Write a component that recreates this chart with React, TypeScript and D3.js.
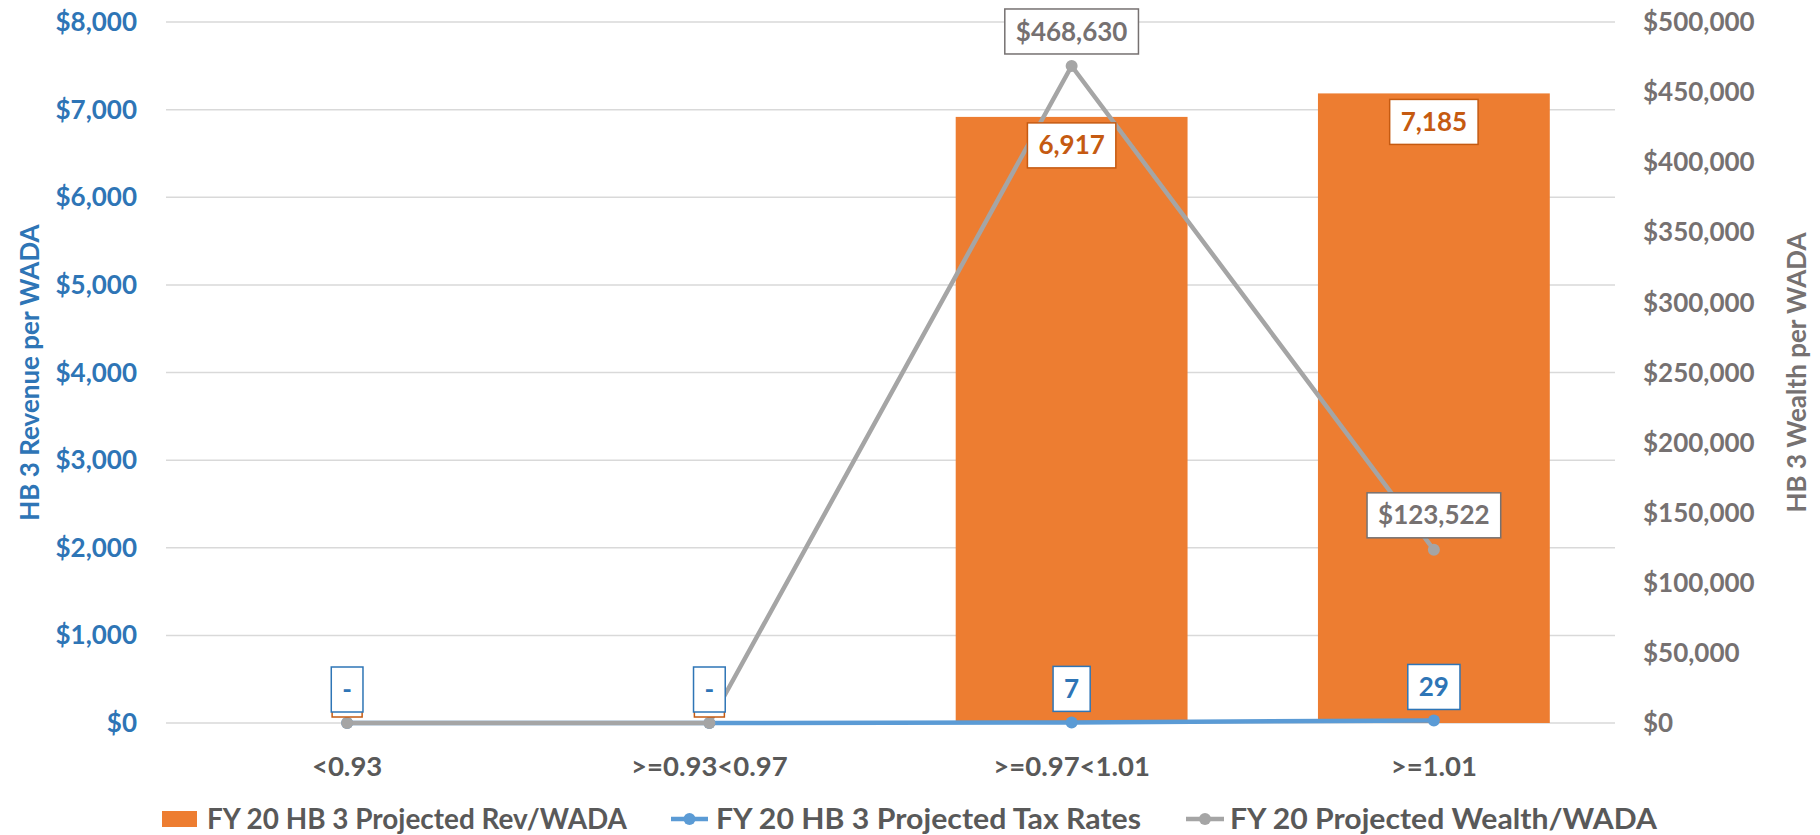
import React, { useEffect, useRef } from "react";
import * as d3 from "d3";

const categories = ["<0.93", ">=0.93<0.97", ">=0.97<1.01", ">=1.01"];
const revPerWada = [0, 0, 6917, 7185];
const taxRates = [0, 0, 7, 29];
const wealthPerWada = [0, 0, 468630, 123522];
const leftTicks = [0, 1000, 2000, 3000, 4000, 5000, 6000, 7000, 8000];
const rightTicks = [0, 50000, 100000, 150000, 200000, 250000, 300000, 350000, 400000, 450000, 500000];
const legendLabels = [
  "FY 20 HB 3 Projected Rev/WADA",
  "FY 20 HB 3 Projected Tax Rates",
  "FY 20 Projected Wealth/WADA",
];

const W = 1820;
const H = 835;
const FONT = "Lato, 'Open Sans', sans-serif";
const ORANGE = "#ED7D31";
const ORANGE_DARK = "#C55A11";
const BLUE = "#5B9BD5";
const BLUE_TEXT = "#2E75B6";
const GRAY = "#A5A5A5";
const GRAY_TEXT = "#767171";
const CAT_TEXT = "#595959";

export default function App() {
  const ref = useRef<SVGSVGElement | null>(null);

  useEffect(() => {
    const svg = d3.select(ref.current);
    svg.selectAll("*").remove();

    const left = 166, right = 1615, top = 22, bottom = 723;
    const x = d3.scaleBand<string>().domain(categories).range([left, right]).padding(0);
    const cx = (c: string) => (x(c) as number) + x.bandwidth() / 2;
    const yL = d3.scaleLinear().domain([0, 8000]).range([bottom, top]);
    const yR = d3.scaleLinear().domain([0, 500000]).range([bottom, top]);
    const barW = x.bandwidth() * 0.64;

    const g = svg.append("g").attr("font-family", FONT).attr("font-weight", 700);

    // gridlines follow the left axis ticks
    g.selectAll("line.grid")
      .data(leftTicks)
      .join("line")
      .attr("x1", left)
      .attr("x2", right)
      .attr("y1", (d) => yL(d))
      .attr("y2", (d) => yL(d))
      .attr("stroke", "#D9D9D9")
      .attr("stroke-width", 1.5);

    // left axis ticks
    g.selectAll("text.lt")
      .data(leftTicks)
      .join("text")
      .attr("x", 137)
      .attr("y", (d) => yL(d))
      .attr("dy", "0.35em")
      .attr("text-anchor", "end")
      .attr("fill", BLUE_TEXT)
      .attr("font-size", 26)
      .text((d) => "$" + d3.format(",")(d));

    // right axis ticks
    g.selectAll("text.rt")
      .data(rightTicks)
      .join("text")
      .attr("x", 1643)
      .attr("y", (d) => yR(d))
      .attr("dy", "0.35em")
      .attr("text-anchor", "start")
      .attr("fill", GRAY_TEXT)
      .attr("font-size", 26)
      .text((d) => "$" + d3.format(",")(d));

    // axis titles
    g.append("text")
      .attr("transform", `translate(30,${(top + bottom) / 2}) rotate(-90)`)
      .attr("text-anchor", "middle")
      .attr("dy", "0.35em")
      .attr("fill", BLUE_TEXT)
      .attr("font-size", 26)
      .text("HB 3 Revenue per WADA");
    g.append("text")
      .attr("transform", `translate(1797,${(top + bottom) / 2}) rotate(-90)`)
      .attr("text-anchor", "middle")
      .attr("dy", "0.35em")
      .attr("fill", GRAY_TEXT)
      .attr("font-size", 26)
      .text("HB 3 Wealth per WADA");

    // category labels
    g.selectAll("text.cat")
      .data(categories)
      .join("text")
      .attr("x", (d) => cx(d))
      .attr("y", 766)
      .attr("dy", "0.35em")
      .attr("text-anchor", "middle")
      .attr("fill", CAT_TEXT)
      .attr("font-size", 27.5)
      .text((d) => d);

    // bars
    g.selectAll("rect.bar")
      .data(categories)
      .join("rect")
      .attr("x", (d) => cx(d) - barW / 2)
      .attr("width", barW)
      .attr("y", (_, i) => yL(revPerWada[i]))
      .attr("height", (_, i) => bottom - yL(revPerWada[i]))
      .attr("fill", ORANGE);

    // lines
    const taxLine = d3
      .line<number>()
      .x((_, i) => cx(categories[i]))
      .y((d) => yL(d));
    const wealthLine = d3
      .line<number>()
      .x((_, i) => cx(categories[i]))
      .y((d) => yR(d));

    g.append("path")
      .attr("d", taxLine(taxRates) as string)
      .attr("fill", "none")
      .attr("stroke", BLUE)
      .attr("stroke-width", 4.5)
      .attr("stroke-linejoin", "round");
    g.selectAll("circle.tax")
      .data(taxRates)
      .join("circle")
      .attr("cx", (_, i) => cx(categories[i]))
      .attr("cy", (d) => yL(d))
      .attr("r", 6)
      .attr("fill", BLUE);

    g.append("path")
      .attr("d", wealthLine(wealthPerWada) as string)
      .attr("fill", "none")
      .attr("stroke", GRAY)
      .attr("stroke-width", 4.5)
      .attr("stroke-linejoin", "round");
    g.selectAll("circle.wealth")
      .data(wealthPerWada)
      .join("circle")
      .attr("cx", (_, i) => cx(categories[i]))
      .attr("cy", (d) => yR(d))
      .attr("r", 6)
      .attr("fill", GRAY);

    // boxed data label: anchored at box centre x and its top or bottom edge
    const boxLabel = (
      text: string | null,
      xc: number,
      edgeY: number,
      edge: "top" | "bottom",
      color: string,
      border: string,
      minW = 0
    ) => {
      const lg = g.append("g");
      const rect = lg.append("rect");
      let tw = 0;
      let t: d3.Selection<SVGTextElement, unknown, null, undefined> | null = null;
      if (text !== null) {
        t = lg
          .append("text")
          .attr("text-anchor", "middle")
          .attr("fill", color)
          .attr("font-size", 26)
          .text(text);
        tw = (t.node() as SVGTextElement).getComputedTextLength();
      }
      const bw = Math.max(tw + 22, minW);
      const bh = 45;
      const y0 = edge === "top" ? edgeY : edgeY - bh;
      rect
        .attr("x", xc - bw / 2)
        .attr("y", y0)
        .attr("width", bw)
        .attr("height", bh)
        .attr("fill", "#FFFFFF")
        .attr("stroke", border)
        .attr("stroke-width", 1.5);
      if (t) t.attr("x", xc).attr("y", y0 + bh / 2).attr("dy", "0.35em");
    };

    // bar labels; zero bars get a box that sits under the tax-rate label
    categories.forEach((c, i) => {
      const v = revPerWada[i];
      if (v > 0) {
        boxLabel(d3.format(",")(v), cx(c), yL(v) + 6, "top", ORANGE_DARK, ORANGE_DARK);
      } else {
        boxLabel(null, cx(c), yL(0) - 6, "bottom", ORANGE_DARK, ORANGE_DARK, 30);
      }
    });

    // tax rate labels
    categories.forEach((c, i) => {
      const v = taxRates[i];
      boxLabel(v > 0 ? String(v) : "-", cx(c), yL(v) - 11, "bottom", BLUE_TEXT, BLUE_TEXT, 30);
    });

    // wealth labels
    categories.forEach((c, i) => {
      const v = wealthPerWada[i];
      if (v > 0) {
        boxLabel("$" + d3.format(",")(v), cx(c), yR(v) - 12, "bottom", GRAY_TEXT, GRAY_TEXT);
      }
    });

    // legend
    const ly = 819;
    const fs = 28;
    const leg = g.append("g");
    leg.append("rect").attr("x", 162).attr("y", ly - 8).attr("width", 35).attr("height", 16).attr("fill", ORANGE);
    leg.append("text").attr("x", 207).attr("y", ly).attr("dy", "0.35em").attr("fill", CAT_TEXT).attr("font-size", fs)
      .attr("textLength", 420).attr("lengthAdjust", "spacingAndGlyphs").text(legendLabels[0]);

    leg.append("line").attr("x1", 671).attr("x2", 708).attr("y1", ly).attr("y2", ly).attr("stroke", BLUE).attr("stroke-width", 4.5);
    leg.append("circle").attr("cx", 689.5).attr("cy", ly).attr("r", 6).attr("fill", BLUE);
    leg.append("text").attr("x", 716).attr("y", ly).attr("dy", "0.35em").attr("fill", CAT_TEXT).attr("font-size", fs)
      .attr("textLength", 425).attr("lengthAdjust", "spacingAndGlyphs").text(legendLabels[1]);

    leg.append("line").attr("x1", 1186).attr("x2", 1224).attr("y1", ly).attr("y2", ly).attr("stroke", GRAY).attr("stroke-width", 4.5);
    leg.append("circle").attr("cx", 1205).attr("cy", ly).attr("r", 6).attr("fill", GRAY);
    leg.append("text").attr("x", 1230).attr("y", ly).attr("dy", "0.35em").attr("fill", CAT_TEXT).attr("font-size", fs)
      .attr("textLength", 427).attr("lengthAdjust", "spacingAndGlyphs").text(legendLabels[2]);
  }, []);

  return (
    <svg
      ref={ref}
      width={W}
      height={H}
      style={{ position: "absolute", left: 0, top: 0, background: "#FFFFFF" }}
    />
  );
}
